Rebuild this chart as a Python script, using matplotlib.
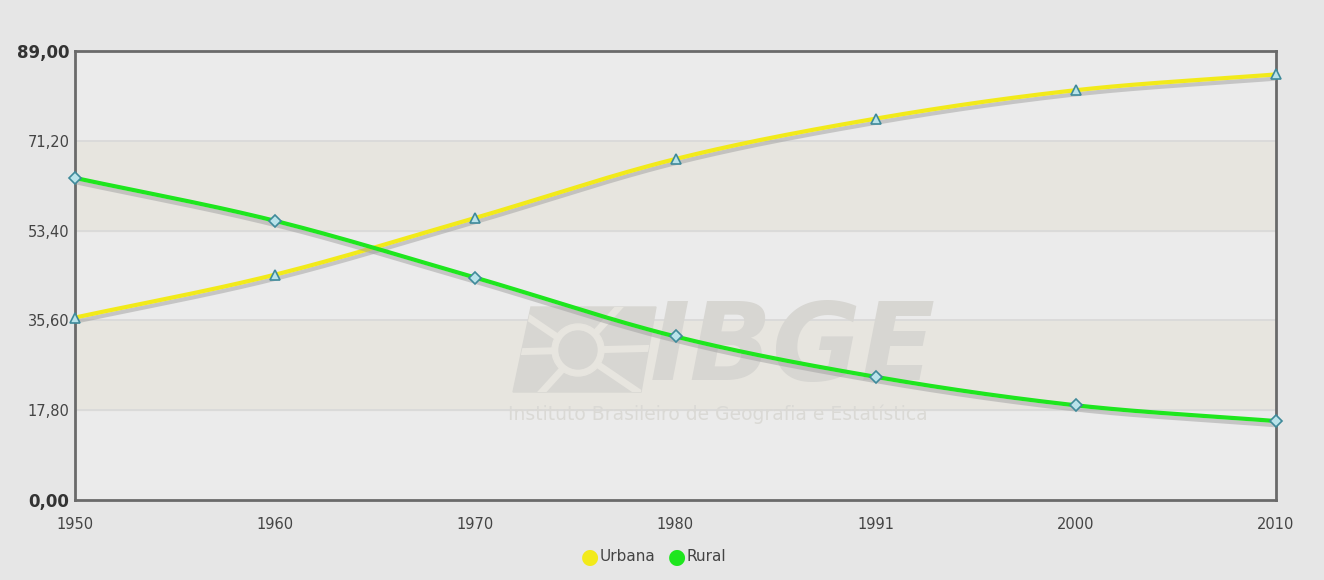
import numpy as np
import matplotlib.pyplot as plt
import matplotlib.patheffects as pe
from matplotlib.patches import Polygon, Ellipse

# Data
years = ["1950", "1960", "1970", "1980", "1991", "2000", "2010"]
urbana = [36.16, 44.67, 55.92, 67.59, 75.59, 81.23, 84.36]
rural = [63.84, 55.33, 44.08, 32.41, 24.41, 18.77, 15.64]
yticks = [0.0, 17.8, 35.6, 53.4, 71.2, 89.0]


def smooth(x, y, n=30):
    # catmull-rom through the points, just for the curved look
    x = np.asarray(x, float)
    y = np.asarray(y, float)
    px = np.concatenate([[2 * x[0] - x[1]], x, [2 * x[-1] - x[-2]]])
    py = np.concatenate([[2 * y[0] - y[1]], y, [2 * y[-1] - y[-2]]])
    xs, ys = [], []
    t = np.linspace(0, 1, n)
    for i in range(1, len(px) - 2):
        for arr, out in ((px, xs), (py, ys)):
            p0, p1, p2, p3 = arr[i - 1:i + 3]
            out.extend(0.5 * (2 * p1 + (-p0 + p2) * t
                              + (2 * p0 - 5 * p1 + 4 * p2 - p3) * t ** 2
                              + (-p0 + 3 * p1 - 3 * p2 + p3) * t ** 3))
    return np.array(xs), np.array(ys)


fig = plt.figure(figsize=(13.24, 5.8), dpi=100, facecolor="#e6e6e6")
ax = fig.add_axes([75 / 1324, 80 / 580, 1201 / 1324, 449 / 580])
ax.set_facecolor("#ebebeb")

x = np.arange(len(years))
ax.set_xlim(0, len(years) - 1)
ax.set_ylim(0, 89)

# alternating bands
ax.axhspan(17.8, 35.6, color="#e7e5df", zorder=0)
ax.axhspan(53.4, 71.2, color="#e7e5df", zorder=0)
for v in yticks[1:-1]:
    ax.axhline(v, color="#d8d8d8", lw=1.2, zorder=1)


# watermark (pixel positions -> axes fraction)
def af(px, py):
    return ((px - 75) / 1201, (500 - py) / 449)


wm = "#d7d6d2"
logo = Polygon([af(531, 307), af(656, 307), af(641, 392), af(513, 392)],
               closed=True, transform=ax.transAxes, color=wm, zorder=1)
ax.add_patch(logo)
for (a, b) in ((af(505, 352), af(665, 348)), (af(530, 405), af(630, 295)),
               (af(510, 305), af(650, 400))):
    ln, = ax.plot([a[0], b[0]], [a[1], b[1]], transform=ax.transAxes,
                  color="#e7e5df", lw=5, zorder=1)
    ln.set_clip_path(logo)
cx, cy = af(578, 350)
ax.add_patch(Ellipse((cx, cy), 52 / 1201, 52 / 449, transform=ax.transAxes,
                     color="#e7e5df", zorder=1))
ax.add_patch(Ellipse((cx, cy), 38 / 1201, 38 / 449, transform=ax.transAxes,
                     color=wm, zorder=1))
ax.text(*af(650, 350), "IBGE", transform=ax.transAxes, fontsize=78,
        fontweight="bold", style="italic", color=wm, ha="left", va="center",
        zorder=1)
ax.text(*af(718, 414), "Instituto Brasileiro de Geografia e Estatística",
        transform=ax.transAxes, fontsize=13.5, color="#dad9d5", ha="center",
        va="center", zorder=1)

shadow = [pe.SimpleLineShadow(offset=(0, -3), shadow_color="#a0a0a0", alpha=0.5),
          pe.Normal()]
for vals, col, mk in ((urbana, "#f2ea1a", "^"), (rural, "#1ee61e", "D")):
    sx, sy = smooth(x, vals)
    ax.plot(sx, sy, color=col, lw=3, zorder=3, path_effects=shadow,
            solid_capstyle="round")
    ax.plot(x, vals, ls="none", marker=mk, ms=7 if mk == "^" else 6,
            mfc="#b9e3ea", mec="#3f8a9a", mew=1.2, zorder=4, clip_on=False)

ax.set_xticks(x)
ax.set_xticklabels(years)
ax.set_yticks(yticks)
ax.set_yticklabels([f"{v:.2f}".replace(".", ",") for v in yticks])
ax.tick_params(axis="x", length=0, labelsize=10.5, labelcolor="#444444", pad=12)
ax.tick_params(axis="y", length=0, labelsize=10.5, labelcolor="#444444", pad=4)
for lbl in (ax.get_yticklabels()[0], ax.get_yticklabels()[-1]):
    lbl.set_fontweight("bold")
    lbl.set_fontsize(12)
    lbl.set_color("#333333")
for s in ax.spines.values():
    s.set_color("#6a6a6a")
    s.set_linewidth(2)

# legend
fig.text(590 / 1324, 0.04, "●", color="#f2ea1a", fontsize=15, ha="center", va="center")
fig.text(600 / 1324, 0.04, "Urbana", color="#444444", fontsize=11, ha="left", va="center")
fig.text(677 / 1324, 0.04, "●", color="#1ee61e", fontsize=15, ha="center", va="center")
fig.text(687 / 1324, 0.04, "Rural", color="#444444", fontsize=11, ha="left", va="center")

fig.savefig("out.png", dpi=100, facecolor=fig.get_facecolor())
